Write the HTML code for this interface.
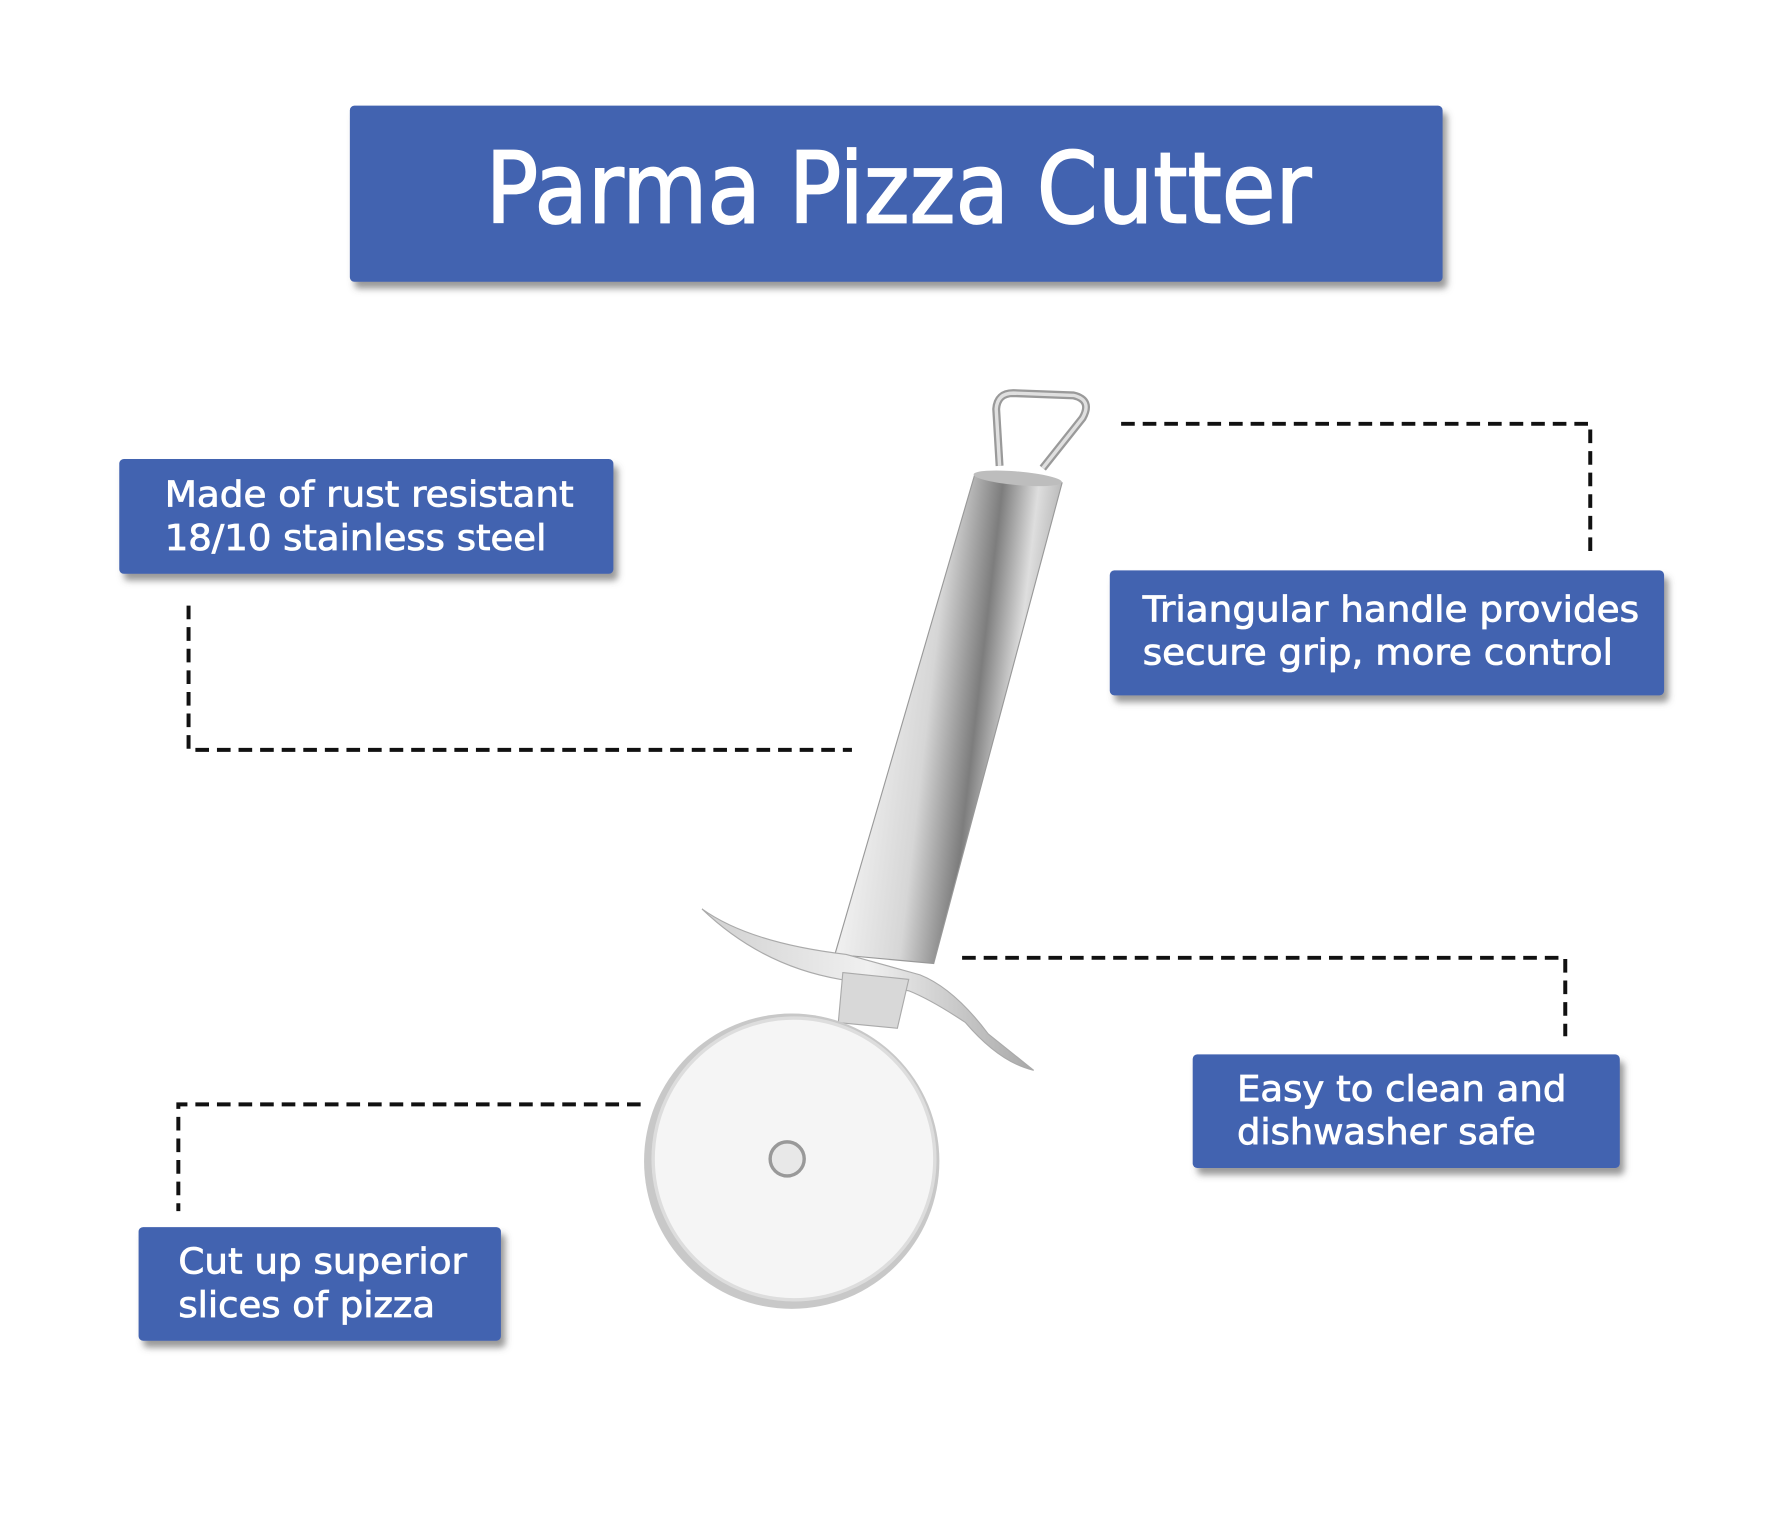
<!DOCTYPE html>
<html><head><meta charset="utf-8"><style>
html,body{margin:0;padding:0;background:#fff}
svg{display:block}
text{font-family:"DejaVu Sans","Liberation Sans",sans-serif;fill:#fff;stroke:#fff;stroke-width:0.7}
</style></head><body>
<svg width="1772" height="1535" viewBox="0 0 1560 1351" preserveAspectRatio="none" xmlns="http://www.w3.org/2000/svg">
<defs>
<linearGradient id="tube" x1="0" y1="0" x2="1" y2="0.25">
<stop offset="0" stop-color="#a8a8a8"/><stop offset="0.25" stop-color="#efefef"/><stop offset="0.5" stop-color="#d6d6d6"/><stop offset="0.7" stop-color="#7d7d7d"/><stop offset="0.85" stop-color="#dedede"/><stop offset="1" stop-color="#a8a8a8"/>
</linearGradient>
<linearGradient id="guard" x1="0" y1="0" x2="1" y2="0">
<stop offset="0" stop-color="#d0d0d0"/><stop offset="0.5" stop-color="#f0f0f0"/><stop offset="1" stop-color="#a8a8a8"/>
</linearGradient>
<filter id="sh" x="-5%" y="-5%" width="112%" height="125%"><feDropShadow dx="4" dy="6" stdDeviation="3" flood-color="#555" flood-opacity="0.6"/></filter>
</defs>
<rect x="308" y="93" width="962" height="155" rx="4" fill="#4363b0" filter="url(#sh)"/>
<text x="791" y="196" font-size="86" text-anchor="middle" textLength="727" lengthAdjust="spacingAndGlyphs" style="stroke-width:1.5">Parma Pizza Cutter</text>
<rect x="105" y="404" width="435" height="101" rx="4" fill="#4363b0" filter="url(#sh)"/>
<text x="145" y="446" font-size="31" textLength="360" lengthAdjust="spacingAndGlyphs">Made of rust resistant</text>
<text x="145" y="484" font-size="31" textLength="336" lengthAdjust="spacingAndGlyphs">18/10 stainless steel</text>
<rect x="977" y="502" width="488" height="110" rx="4" fill="#4363b0" filter="url(#sh)"/>
<text x="1006" y="547" font-size="31" textLength="437" lengthAdjust="spacingAndGlyphs">Triangular handle provides</text>
<text x="1006" y="585" font-size="31" textLength="414" lengthAdjust="spacingAndGlyphs">secure grip, more control</text>
<rect x="1050" y="928" width="376" height="100" rx="4" fill="#4363b0" filter="url(#sh)"/>
<text x="1089" y="969" font-size="31" textLength="290" lengthAdjust="spacingAndGlyphs">Easy to clean and</text>
<text x="1089" y="1007" font-size="31" textLength="263" lengthAdjust="spacingAndGlyphs">dishwasher safe</text>
<rect x="122" y="1080" width="319" height="100" rx="4" fill="#4363b0" filter="url(#sh)"/>
<text x="157" y="1121" font-size="31" textLength="254" lengthAdjust="spacingAndGlyphs">Cut up superior</text>
<text x="157" y="1159" font-size="31" textLength="226" lengthAdjust="spacingAndGlyphs">slices of pizza</text>
<g fill="none" stroke="#111" stroke-width="3.5" stroke-dasharray="12,7">
<path d="M166 533 V660 H750"/>
<path d="M987 373 H1400 V487"/>
<path d="M847 843 H1378 V912"/>
<path d="M564 972 H157 V1066"/>
</g>
<path d="M880 410 L877 360 Q878 346 892 346 L945 348 Q962 352 953 368 L918 412" fill="none" stroke="#9a9a9a" stroke-width="7" stroke-linejoin="round"/>
<path d="M880 410 L877 360 Q878 346 892 346 L945 348 Q962 352 953 368 L918 412" fill="none" stroke="#e0e0e0" stroke-width="3" stroke-linejoin="round"/>
<path d="M858 418 L935 425 L822 848 L735 840 Z" fill="url(#tube)" stroke="#999" stroke-width="1"/>
<ellipse cx="896" cy="421" rx="39" ry="6" fill="#bdbdbd" transform="rotate(5 896 421)"/>
<path d="M618 800 Q660 830 745 840 L810 858 Q840 870 870 910 L910 942 Q880 935 850 900 Q820 880 800 872 L740 862 Q670 850 618 800 Z" fill="url(#guard)" stroke="#aaa" stroke-width="1"/>
<path d="M742 856 L800 862 L790 905 L738 900 Z" fill="#d8d8d8" stroke="#aaa" stroke-width="1"/>
<circle cx="697" cy="1022" r="130" fill="#c8c8c8"/>
<circle cx="699" cy="1020" r="124" fill="#f5f5f5" stroke="#ddd" stroke-width="3"/>
<circle cx="693" cy="1020" r="15" fill="#e8e8e8" stroke="#999" stroke-width="3"/>
</svg>
</body></html>
